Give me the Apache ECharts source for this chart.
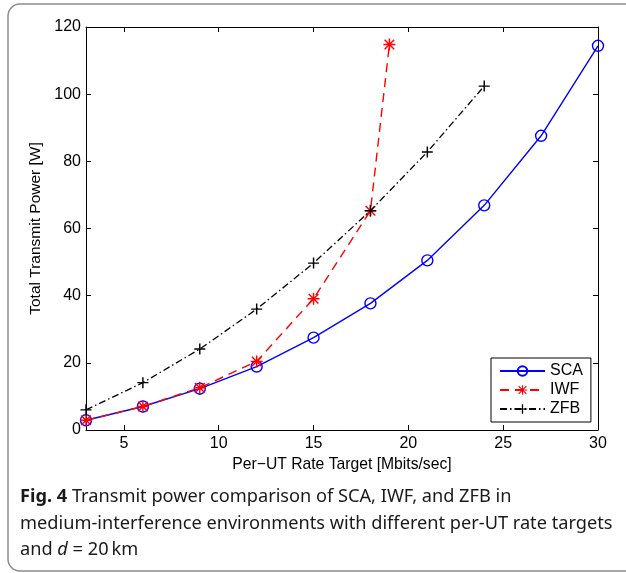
<!DOCTYPE html>
<html><head><meta charset="utf-8">
<script src="https://cdn.jsdelivr.net/npm/echarts@6/dist/echarts.min.js"></script>
<style>html,body{margin:0;padding:0;background:#fff}#c{width:626px;height:573px}</style>
</head><body><div id="c"></div>
<script>
var rates = [3, 6, 9, 12, 15, 18, 21, 24, 27, 30];
var scaPower = [2.9, 7.0, 12.3, 18.9, 27.5, 37.7, 50.5, 66.9, 87.6, 114.4];
var iwfRates = [3, 6, 9, 12, 15, 18, 19];
var iwfPower = [2.9, 7.0, 12.6, 20.4, 39.1, 65.3, 114.8];
var zfbRates = [3, 6, 9, 12, 15, 18, 21, 24];
var zfbPower = [6.0, 14.1, 24.1, 36.0, 49.7, 65.3, 82.8, 102.4];
var xTicks = [5, 10, 15, 20, 25, 30];
var yTicks = [0, 20, 40, 60, 80, 100, 120];
var seriesNames = ['SCA', 'IWF', 'ZFB'];

function pairs(xs, ys) { return xs.map(function (x, i) { return [x, ys[i]]; }); }

var starPath = 'path://M8.8 0L11.2 0L11.2 20L8.8 20Z M0 8.8L20 8.8L20 11.2L0 11.2Z M2.85 1.15L18.85 17.15L17.15 18.85L1.15 2.85Z M17.15 1.15L18.85 2.85L2.85 18.85L1.15 17.15Z';
var plusPath = 'path://M8.7 0L11.3 0L11.3 20L8.7 20Z M0 8.7L20 8.7L20 11.3L0 11.3Z';

var axisFont = '"Liberation Sans", Arial, sans-serif';
var capFont = '"Noto Sans", sans-serif';
var chart = echarts.init(document.getElementById('c'), null, {renderer: 'canvas'});
var baseAxis = {
  axisLine: {show: true, onZero: false, lineStyle: {color: '#000', width: 1}},
  splitLine: {show: false}
};
chart.setOption({
  animation: false,
  backgroundColor: '#fff',
  grid: {left: 86, right: 28, top: 27, bottom: 143, containLabel: false},
  xAxis: [
    Object.assign({}, baseAxis, {
      type: 'value', min: 3, max: 30, position: 'bottom',
      name: 'Per\u2212UT Rate Target [Mbits/sec]', nameLocation: 'middle', nameGap: 23,
      nameTextStyle: {fontFamily: axisFont, fontSize: 15.7, color: '#000'},
      axisTick: {show: true, inside: true, length: 5, customValues: xTicks, lineStyle: {color: '#000'}},
      axisLabel: {show: true, customValues: xTicks, margin: 6, fontFamily: axisFont, fontSize: 16, color: '#000'}
    }),
    Object.assign({}, baseAxis, {
      type: 'value', min: 3, max: 30, position: 'top',
      axisTick: {show: true, inside: true, length: 5, customValues: xTicks, lineStyle: {color: '#000'}},
      axisLabel: {show: false}
    })
  ],
  yAxis: [
    Object.assign({}, baseAxis, {
      type: 'value', min: 0, max: 120, interval: 20, position: 'left',
      name: 'Total Transmit Power [W]', nameLocation: 'middle', nameGap: 36,
      nameTextStyle: {fontFamily: axisFont, fontSize: 15.5, color: '#000'},
      axisTick: {show: true, inside: true, length: 5, lineStyle: {color: '#000'}},
      axisLabel: {show: true, margin: 5, fontFamily: axisFont, fontSize: 16, color: '#000',
        customValues: yTicks}
    }),
    Object.assign({}, baseAxis, {
      type: 'value', min: 0, max: 120, interval: 20, position: 'right',
      axisTick: {show: true, inside: true, length: 5, lineStyle: {color: '#000'}},
      axisLabel: {show: false}
    })
  ],
  legend: {
    orient: 'vertical', left: 491, top: 358,
    data: seriesNames,
    itemWidth: 45, itemHeight: 12, itemGap: 3,
    padding: [5, 8, 5, 8],
    borderColor: '#000', borderWidth: 1, backgroundColor: '#fff', borderRadius: 0,
    textStyle: {fontFamily: axisFont, fontSize: 16, color: '#000'}
  },
  series: [
    {
      name: seriesNames[0], type: 'line', data: pairs(rates, scaPower),
      symbol: 'circle', symbolSize: 11,
      lineStyle: {color: '#0000ff', width: 1.4, type: 'solid'},
      itemStyle: {color: 'rgba(0,0,0,0)', borderColor: '#0000ff', borderWidth: 1.4},
      z: 2
    },
    {
      name: seriesNames[1], type: 'line', data: pairs(iwfRates, iwfPower),
      symbol: starPath, symbolSize: 12,
      lineStyle: {color: '#ff0000', width: 1.4, type: [9, 6]},
      itemStyle: {color: '#ff0000'},
      z: 3
    },
    {
      name: seriesNames[2], type: 'line', data: pairs(zfbRates, zfbPower),
      symbol: plusPath, symbolSize: 11,
      lineStyle: {color: '#000', width: 1.3, type: [7, 3, 1.5, 3]},
      itemStyle: {color: '#000'},
      z: 4
    }
  ],
  graphic: [
    {type: 'rect', shape: {x: 8, y: 4, width: 640, height: 567, r: 12}, style: {fill: 'none', stroke: '#8c8c8c', lineWidth: 1.5}, silent: true, z: 0},
    {type: 'text', left: 20, top: 488, style: {
      text: '{b|Fig. 4} Transmit power comparison of SCA, IWF, and ZFB in',
      fontFamily: capFont, fontSize: 18.2, fill: '#1a1a1a',
      rich: {b: {fontFamily: capFont, fontSize: 18.2, fontWeight: 'bold', fill: '#1a1a1a'}}
    }},
    {type: 'text', left: 20, top: 515, style: {
      text: 'medium-interference environments with different per-UT rate targets',
      fontFamily: capFont, fontSize: 18.2, fill: '#1a1a1a'
    }},
    {type: 'text', left: 20, top: 541, style: {
      text: 'and {i|d} = 20\u2009km',
      fontFamily: capFont, fontSize: 18.2, fill: '#1a1a1a',
      rich: {i: {fontFamily: capFont, fontSize: 18.2, fontStyle: 'italic', fill: '#1a1a1a'}}
    }}
  ]
});
</script></body></html>
